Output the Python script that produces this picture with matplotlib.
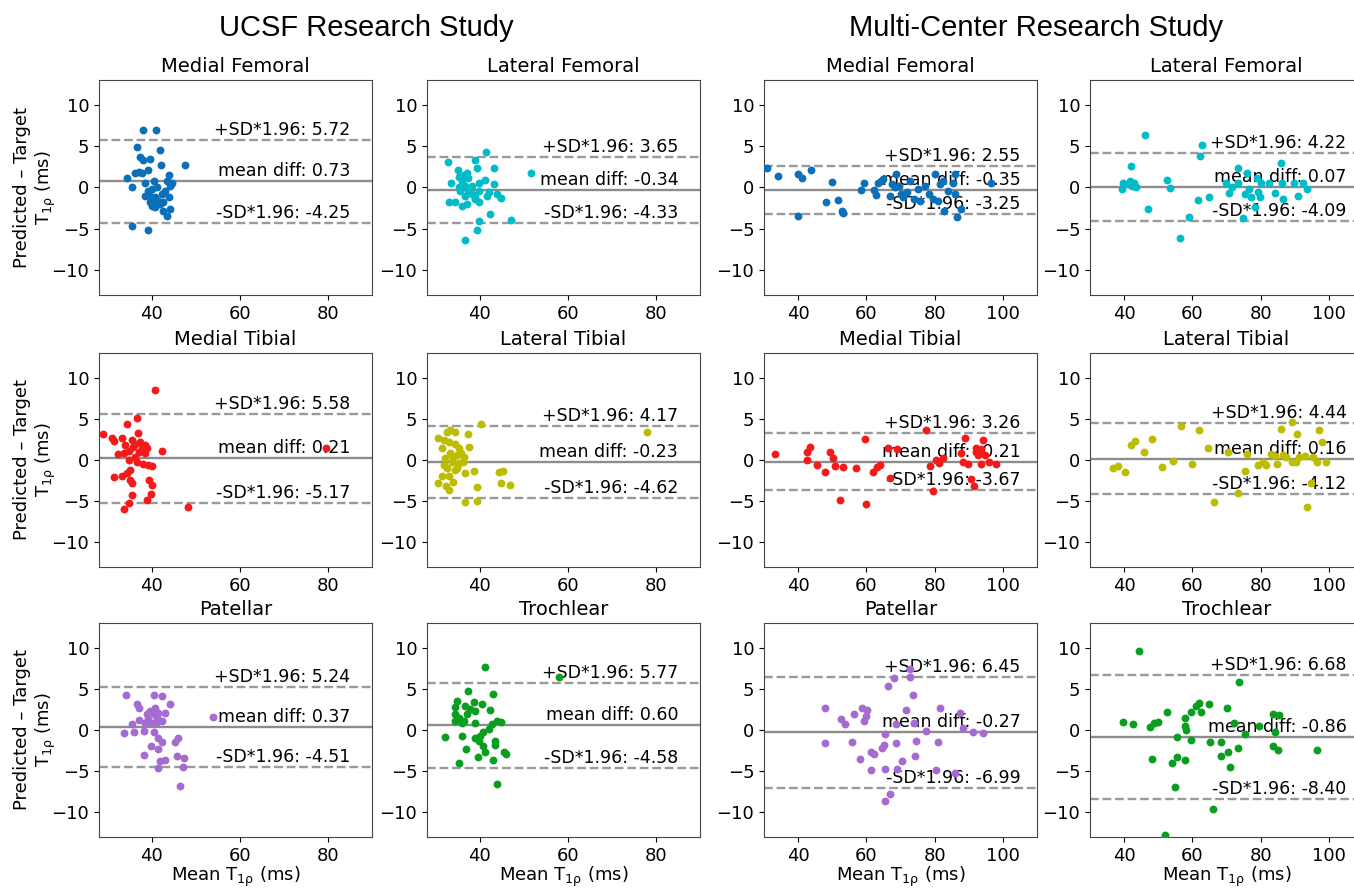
import matplotlib
matplotlib.use('Agg')
import matplotlib.pyplot as plt

plt.rcParams['font.family'] = ['DejaVu Sans']
plt.rcParams['mathtext.fontset'] = 'dejavusans'

# --- UCSF study (mean T1rho, predicted - target) ---
ucsf_mf_x = [38.1, 41.0, 36.7, 41.9, 37.4, 38.1, 39.6, 42.1, 47.6, 37.0, 39.2, 36.2, 37.7, 43.9,
             34.3, 35.5, 38.5, 40.4, 43.4, 44.5, 39.2, 40.0, 41.1, 44.1, 39.6, 40.8, 42.3, 43.8,
             43.0, 39.6, 40.8, 42.6, 44.1, 43.4, 41.9, 40.0, 35.6, 39.2, 38.5, 40.2, 41.5, 42.6]
ucsf_mf_y = [7.0, 6.9, 4.9, 4.5, 3.7, 3.3, 3.5, 2.7, 2.7, 1.9, 2.1, 1.7, 1.7, 1.5,
             1.1, 0.1, 0.6, 0.8, 0.8, 0.5, -0.4, -0.2, 0.0, 0.2, -1.0, -1.2, -0.8, -1.2,
             -0.4, -1.8, -2.4, -2.8, -2.6, -3.4, -2.0, -2.2, -4.7, -5.2, -1.0, -1.6, -1.6, -1.8]

ucsf_lf_x = [41.4, 32.7, 38.9, 43.3, 35.0, 37.1, 39.3, 51.6, 33.5, 35.2, 36.0, 36.4, 37.4, 35.2,
             36.7, 38.2, 39.8, 41.1, 43.3, 35.5, 37.4, 39.7, 42.0, 43.9, 44.7, 33.0, 34.4, 35.9,
             37.0, 38.9, 39.7, 41.6, 39.0, 42.3, 39.7, 47.1, 39.3, 36.7, 38.2, 36.7]
ucsf_lf_y = [4.3, 3.1, 3.3, 2.3, 2.1, 1.7, 2.3, 1.8, 0.6, 1.3, 0.8, 1.5, 1.1, 0.0,
             0.2, 0.2, 0.6, 0.9, 0.4, -0.4, -0.3, -0.4, -0.6, -0.8, -1.3, -1.7, -1.7, -2.2,
             -2.0, -1.4, -1.8, -1.0, -1.1, -3.2, -4.0, -3.9, -5.1, -6.3, -0.8, -1.0]

ucsf_mt_x = [40.8, 29.0, 34.3, 36.6, 30.9, 31.5, 33.2, 36.8, 34.0, 35.5, 36.2, 37.4, 38.5, 38.9,
             42.2, 32.3, 33.6, 34.7, 37.0, 38.5, 36.1, 34.7, 36.6, 38.1, 40.0, 39.2, 35.0, 34.3,
             31.3, 33.2, 35.0, 35.5, 39.3, 40.0, 39.8, 39.0, 35.6, 34.7, 33.6, 48.2, 37.7, 35.8, 79.5]
ucsf_mt_y = [8.5, 3.2, 4.4, 5.1, 2.7, 2.3, 2.7, 3.3, 1.8, 2.4, 2.0, 2.2, 1.8, 1.4,
             1.1, 0.7, 0.9, 1.1, 1.0, 0.8, 0.4, 0.0, -0.3, -0.5, -0.7, -0.6, -1.2, -1.6,
             -2.1, -1.9, -2.4, -2.8, -2.4, -3.0, -4.1, -4.8, -4.2, -5.2, -5.9, -5.7, 1.4, 1.6, 1.4]

ucsf_lt_x = [40.3, 30.6, 31.4, 31.8, 32.6, 33.3, 34.3, 32.9, 34.4, 37.2, 37.6, 32.1, 33.3, 34.0,
             34.8, 35.8, 36.5, 33.6, 35.2, 36.1, 31.8, 32.6, 34.4, 36.7, 38.6, 31.4, 33.1, 30.5,
             32.3, 33.1, 34.0, 39.3, 36.7, 39.3, 44.4, 45.2, 44.8, 46.9, 35.2, 34.8, 78.0]
ucsf_lt_y = [4.4, 2.7, 1.4, 2.4, 3.4, 3.6, 3.4, 2.2, 2.0, 3.2, 1.6, 0.2, 0.8, 0.4,
             0.6, 0.9, 0.4, -0.2, -0.4, -0.3, -0.6, -1.0, -1.2, -1.6, -1.3, -2.0, -2.0, -2.8,
             -3.2, -3.7, -2.7, -3.3, -5.1, -5.0, -1.5, -1.3, -2.8, -3.0, 1.4, -1.0, 3.4]

ucsf_p_x = [34.1, 40.4, 42.3, 36.6, 37.0, 44.1, 39.6, 40.8, 41.5, 43.0, 38.9, 40.4, 35.5, 37.0,
            38.5, 40.0, 41.1, 42.3, 33.7, 36.0, 38.3, 40.4, 41.5, 42.3, 39.8, 41.5, 45.3, 46.0,
            38.3, 45.7, 47.4, 41.9, 42.9, 41.5, 47.0, 46.4, 53.8, 39.2, 41.1]
ucsf_p_y = [4.3, 4.2, 4.1, 3.2, 2.7, 3.2, 2.3, 2.7, 2.1, 2.1, 1.9, 1.9, 0.7, 1.2,
            0.9, 0.9, 1.0, 1.1, -0.4, -0.2, -0.1, -0.3, -1.0, -1.4, -1.9, -2.3, -1.5, -1.0,
            -3.0, -3.1, -3.4, -3.8, -3.6, -4.6, -4.5, -6.8, 1.6, 1.3, 1.5]

ucsf_t_x = [41.1, 37.3, 43.1, 34.8, 38.6, 40.5, 36.7, 42.4, 34.3, 38.9, 34.4, 35.2, 36.4, 34.3,
            38.8, 35.9, 43.9, 44.8, 42.7, 42.0, 40.8, 40.1, 32.1, 35.9, 38.9, 39.7, 43.5, 43.5,
            40.8, 36.8, 41.2, 39.5, 45.6, 46.0, 43.1, 35.2, 43.9, 58.0, 37.8, 37.0]
ucsf_t_y = [7.6, 4.7, 4.4, 3.5, 3.4, 3.2, 2.9, 2.4, 2.8, 2.3, 1.9, 1.5, 1.1, 1.1,
            0.9, 0.8, 1.1, 1.0, 0.7, 0.1, -0.3, -0.7, -0.9, -0.7, -1.0, -1.3, -1.3, -1.8,
            -1.9, -2.3, -2.7, -3.3, -2.7, -2.9, -3.7, -4.0, -6.5, 6.5, 2.5, 1.9]

# --- Multi-center study ---
mc_mf_x = [30.8, 34.1, 40.0, 41.0, 43.8, 49.8, 48.2, 51.6, 53.0, 53.2, 40.0, 59.2, 58.5, 62.3,
           62.9, 63.5, 64.2, 64.8, 66.8, 67.4, 68.7, 68.3, 69.6, 70.8, 71.8, 72.7, 73.9, 75.2,
           75.8, 77.1, 78.4, 79.6, 80.9, 81.5, 82.4, 82.8, 84.0, 85.3, 85.9, 86.5, 87.8, 85.9,
           96.6, 70.2, 80.1]
mc_mf_y = [2.4, 1.4, 1.6, 1.2, 2.1, 0.7, -1.8, -1.5, -2.9, -3.1, -3.4, 0.6, -0.3, -0.3,
           -0.9, 0.5, 0.8, 1.0, -1.0, 0.4, 1.6, 0.0, 0.2, -1.2, -0.6, 0.8, -1.4, -0.2,
           -1.6, 0.2, -0.8, -1.4, -1.6, 0.4, 0.8, -2.8, -0.4, 0.6, -0.8, -3.6, -2.6, 1.6,
           0.5, -0.8, 1.6]

mc_lf_x = [46.2, 42.0, 39.8, 39.5, 41.0, 41.6, 42.2, 43.5, 42.9, 47.0, 52.6, 53.5, 59.1, 56.4,
           61.6, 62.2, 62.9, 65.0, 69.8, 70.8, 71.6, 73.5, 73.5, 75.4, 76.0, 76.6, 77.3, 74.8,
           78.3, 79.1, 79.8, 80.0, 82.5, 84.1, 86.0, 86.3, 86.6, 89.8, 91.0, 92.5, 93.5, 79.0]
mc_lf_y = [6.3, 2.6, 0.5, -0.2, 0.4, 0.8, 0.2, 0.1, 0.6, -2.6, 0.9, -0.1, -3.6, -6.1,
           -1.5, 3.8, 5.1, -1.2, 0.6, -0.7, 0.0, 2.3, 0.6, -0.8, 1.8, -0.2, -1.2, -3.7,
           -2.3, -0.6, -1.2, 0.5, 0.5, -0.7, 3.0, 0.5, -1.4, 0.5, -1.0, 0.6, -0.2, 1.2]

mc_mt_x = [33.3, 42.5, 43.5, 42.5, 45.4, 47.9, 49.4, 50.3, 50.9, 53.2, 52.2, 57.0, 59.7, 59.9,
           62.0, 63.0, 63.9, 66.2, 67.0, 68.9, 77.4, 78.7, 79.6, 80.3, 81.3, 82.4, 87.8, 88.4,
           88.8, 89.7, 90.7, 91.6, 92.2, 92.8, 93.5, 94.1, 93.5, 94.7, 96.0, 97.9, 92.0]
mc_mt_y = [0.7, 1.0, 1.6, 0.0, -0.6, -1.4, 1.0, 0.2, -0.7, -0.8, -4.8, -1.0, 2.5, -5.3,
           -1.5, -0.9, -0.6, 1.4, -2.2, 1.3, 3.6, -0.7, -3.8, 0.0, -0.4, 0.2, 0.8, -0.2,
           2.7, -0.5, -2.3, -3.2, 1.0, 0.6, 1.3, 2.4, -0.5, 0.6, -0.2, -0.5, 1.4]

mc_lt_x = [36.6, 38.3, 40.4, 41.9, 43.3, 45.8, 48.3, 51.0, 54.4, 56.6, 60.0, 62.0, 64.5, 66.4,
           70.4, 73.5, 75.4, 76.0, 79.1, 80.8, 81.6, 82.9, 84.1, 84.8, 86.0, 86.6, 87.5, 89.1,
           89.1, 90.4, 90.8, 91.3, 92.9, 93.5, 94.8, 95.4, 96.6, 97.0, 97.9, 99.1]
mc_lt_y = [-1.0, -0.7, -1.5, 1.8, 2.3, 1.0, 2.5, -0.8, -0.1, 4.1, -0.5, 3.6, 1.4, -5.1,
           1.0, -4.0, -1.3, 0.7, -0.6, -0.2, -0.6, 0.7, 0.5, -0.5, 3.8, 0.6, 0.4, 4.6,
           -0.3, -0.2, 3.2, 0.4, 0.5, -5.7, -2.8, 0.4, -0.3, 3.6, 2.2, -0.3]

mc_p_x = [47.9, 47.9, 52.6, 53.8, 55.7, 56.3, 58.2, 58.6, 59.2, 60.1, 59.9, 61.4, 61.4, 62.3,
          64.5, 65.2, 65.5, 65.4, 65.4, 66.2, 67.0, 68.0, 68.8, 68.8, 69.1, 70.3, 71.6, 72.7,
          72.7, 73.6, 74.3, 74.6, 73.9, 77.5, 81.6, 81.1, 80.3, 86.0, 87.4, 88.4, 91.3, 94.1]
mc_p_y = [2.7, -1.6, 1.3, 0.7, -1.4, 2.0, -3.5, 2.7, 1.1, 2.4, 1.7, -4.8, -2.7, -2.9,
          -2.2, -1.8, -0.5, -4.7, -8.6, 5.3, -7.8, 6.3, -1.6, 0.7, -4.7, -3.8, 2.4, 7.4,
          6.4, 4.3, -3.1, -1.3, 0.8, -0.1, 2.7, -1.4, -4.9, -5.2, 2.1, 0.2, -0.2, -0.4]

mc_t_x = [44.5, 39.8, 42.5, 47.5, 48.8, 49.8, 48.1, 52.6, 54.1, 55.4, 55.4, 55.0, 51.9, 57.9,
          57.9, 58.2, 57.9, 59.5, 59.5, 61.0, 62.0, 62.5, 65.1, 65.0, 66.0, 68.3, 68.3, 70.0,
          70.4, 71.0, 72.3, 73.3, 73.8, 75.4, 79.5, 83.5, 84.1, 85.4, 83.5, 85.0, 96.6]
mc_t_y = [9.6, 1.0, 0.7, 0.4, 0.8, 1.0, -3.5, 2.2, -4.0, -3.3, -0.9, -6.9, -12.7, 1.4,
          0.5, 0.0, -3.7, -1.2, 2.2, 2.9, 3.3, 2.2, -1.4, 3.2, -9.6, -1.4, -3.2, 2.7,
          -2.7, -4.5, 0.9, -2.2, 5.8, -0.5, 0.5, 2.0, -0.2, 1.8, -1.9, -2.4, -2.4]

# mean diff, +1.96 SD, -1.96 SD per panel
ucsf_stats = [(0.73, 5.72, -4.25), (-0.34, 3.65, -4.33), (0.21, 5.58, -5.17),
              (-0.23, 4.17, -4.62), (0.37, 5.24, -4.51), (0.60, 5.77, -4.58)]
mc_stats = [(-0.35, 2.55, -3.25), (0.07, 4.22, -4.09), (-0.21, 3.26, -3.67),
            (0.16, 4.44, -4.12), (-0.27, 6.45, -6.99), (-0.86, 6.68, -8.40)]

regions = ['Medial Femoral', 'Lateral Femoral', 'Medial Tibial',
           'Lateral Tibial', 'Patellar', 'Trochlear']
colors = ['#0b70b8', '#00bcc8', '#f51a1a', '#bcbc00', '#a56bd0', '#0a9e1e']

ucsf_data = [(ucsf_mf_x, ucsf_mf_y), (ucsf_lf_x, ucsf_lf_y), (ucsf_mt_x, ucsf_mt_y),
             (ucsf_lt_x, ucsf_lt_y), (ucsf_p_x, ucsf_p_y), (ucsf_t_x, ucsf_t_y)]
mc_data = [(mc_mf_x, mc_mf_y), (mc_lf_x, mc_lf_y), (mc_mt_x, mc_mt_y),
           (mc_lt_x, mc_lt_y), (mc_p_x, mc_p_y), (mc_t_x, mc_t_y)]

W, H = 1354, 888
fig = plt.figure(figsize=(W / 100, H / 100), dpi=100)

# pixel layout of the panels (left, width) per column, (top, bottom) per row
# the last column runs a little past the right edge, as in the source image
col_px = [(99, 273), (427, 273), (764, 273), (1090, 273)]
row_px = [(80, 295), (353, 567), (623, 837)]

t1rho = r'$\mathregular{T_{1\rho}}$'


def draw_panel(ax, x, y, stats, color, title, xlim, xticks, text_x):
    mean, upper, lower = stats
    ax.scatter(x, y, s=32, color=color, zorder=3, linewidths=0)
    ax.axhline(mean, color='#8c8c8c', lw=1.7, zorder=2)
    ax.axhline(upper, color='#9a9a9a', lw=1.7, ls='--', zorder=2)
    ax.axhline(lower, color='#9a9a9a', lw=1.7, ls='--', zorder=2)
    labels = [f'+SD*1.96: {upper:.2f}', f'mean diff: {mean:.2f}', f'-SD*1.96: {lower:.2f}']
    for val, lab in zip([upper, mean, lower], labels):
        ax.annotate(lab, xy=(text_x, val), xycoords=('axes fraction', 'data'),
                    xytext=(0, 3.6), textcoords='offset points',
                    ha='right', va='baseline', fontsize=12.5, zorder=2.5)
    ax.set_xlim(*xlim)
    ax.set_ylim(-13, 13)
    ax.set_xticks(xticks)
    ax.set_yticks([-10, -5, 0, 5, 10])
    ax.tick_params(labelsize=13)
    ax.set_title(title, fontsize=14, pad=6)
    for sp in ax.spines.values():
        sp.set_color('#444444')


for study, (data, stats) in enumerate([(ucsf_data, ucsf_stats), (mc_data, mc_stats)]):
    for i in range(6):
        r, c = divmod(i, 2)
        col = study * 2 + c
        left, width = col_px[col]
        top, bottom = row_px[r]
        ax = fig.add_axes([left / W, 1 - bottom / H, width / W, (bottom - top) / H])
        if study == 0:
            draw_panel(ax, data[i][0], data[i][1], stats[i], colors[i], regions[i],
                       (28, 90), [40, 60, 80], 0.92)
        else:
            draw_panel(ax, data[i][0], data[i][1], stats[i], colors[i], regions[i],
                       (30, 110), [40, 60, 80, 100], 0.94)
        if col == 0:
            ax.set_ylabel('Predicted – Target\n' + t1rho + ' (ms)', fontsize=13)
            ax.yaxis.set_label_coords(-0.15, 0.5)
        if r == 2:
            ax.set_xlabel('Mean ' + t1rho + ' (ms)', fontsize=13, labelpad=0)

fig.text(366 / W, 1 - 28 / H, 'UCSF Research Study', ha='center', va='center',
         fontsize=21, family=['Liberation Sans', 'DejaVu Sans'])
fig.text(1036 / W, 1 - 28 / H, 'Multi-Center Research Study', ha='center', va='center',
         fontsize=21, family=['Liberation Sans', 'DejaVu Sans'])

fig.savefig('out.png', dpi=100)
